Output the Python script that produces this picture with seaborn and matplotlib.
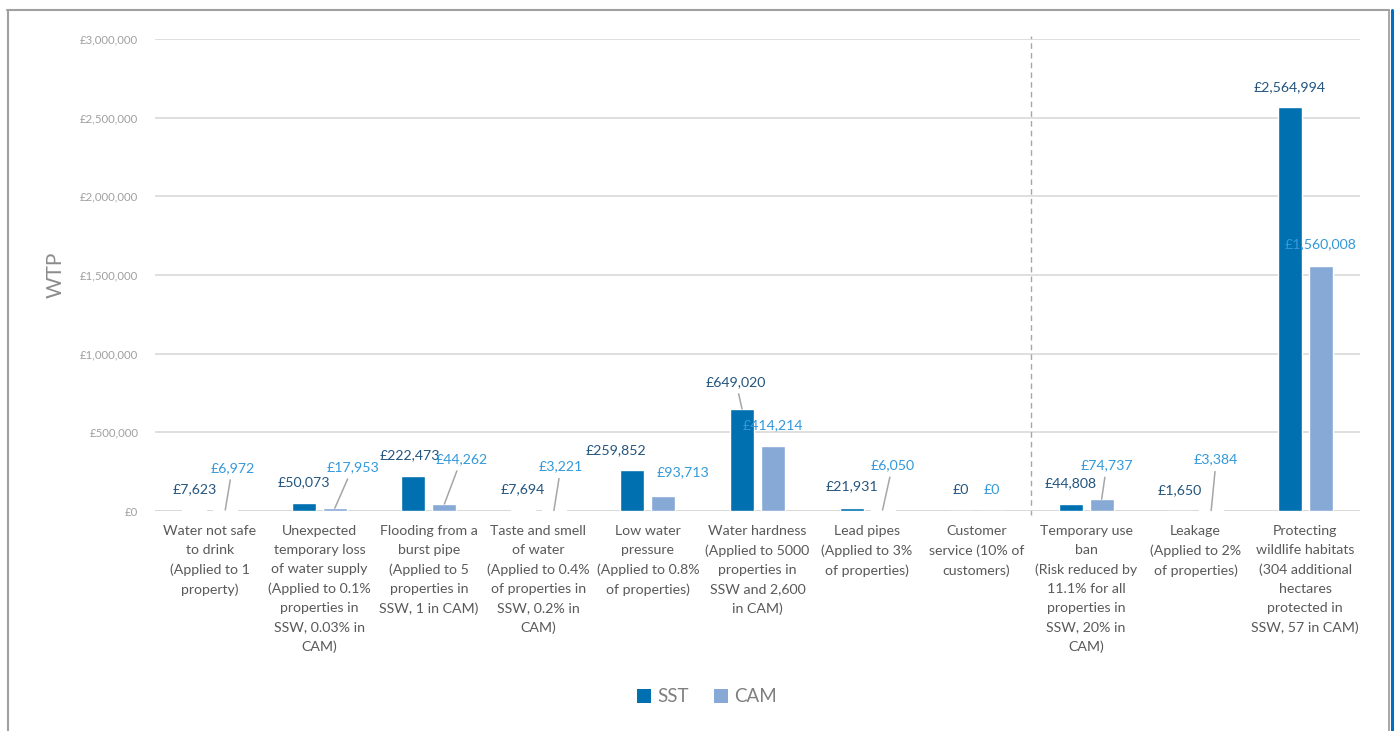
import matplotlib
matplotlib.use("Agg")
import matplotlib.pyplot as plt
import pandas as pd
import seaborn as sns
from matplotlib.lines import Line2D
from matplotlib.patches import Patch

# ---- data -------------------------------------------------------------
categories = [
    "Water not safe\nto drink\n(Applied to 1\nproperty)",
    "Unexpected\ntemporary loss\nof water supply\n(Applied to 0.1%\nproperties in\nSSW, 0.03% in\nCAM)",
    "Flooding from a\nburst pipe\n(Applied to 5\nproperties in\nSSW, 1 in CAM)",
    "Taste and smell\nof water\n(Applied to 0.4%\nof properties in\nSSW, 0.2% in\nCAM)",
    "Low water\npressure\n(Applied to 0.8%\nof properties)",
    "Water hardness\n(Applied to 5000\nproperties in\nSSW and 2,600\nin CAM)",
    "Lead pipes\n(Applied to 3%\nof properties)",
    "Customer\nservice (10% of\ncustomers)",
    "Temporary use\nban\n(Risk reduced by\n11.1% for all\nproperties in\nSSW, 20% in\nCAM)",
    "Leakage\n(Applied to 2%\nof properties)",
    "Protecting\nwildlife habitats\n(304 additional\nhectares\nprotected in\nSSW, 57 in CAM)",
]
series_names = ["SST", "CAM"]
sst_values = [7623, 50073, 222473, 7694, 259852, 649020, 21931, 0, 44808, 1650, 2564994]
cam_values = [6972, 17953, 44262, 3221, 93713, 414214, 6050, 0, 74737, 3384, 1560008]
y_ticks = [0, 500000, 1000000, 1500000, 2000000, 2500000, 3000000]
y_title = "WTP"

# ---- styling ----------------------------------------------------------
SST_BAR = "#0070B0"
CAM_BAR = "#86A9D5"
SST_TXT = "#24557F"
CAM_TXT = "#3499DA"
GRID = "#D9D9D9"
LEADER = "#A6A6A6"

# label placement (pixels from bar top: dx, up, leader line)
sst_offsets = [(0, 21, False), (0, 21, False), (-3, 21, False), (0, 21, False),
               (-17, 20, False), (-6, 27, True), (0, 21, False), (0, 21, False),
               (0, 21, False), (0, 21, False), (0, 20, False)]
cam_offsets = [(7, 42, True), (18, 41, True), (17, 45, True), (7, 44, True),
               (20, 24, False), (0, 21, False), (10, 45, True), (0, 21, False),
               (5, 34, True), (5, 51, True), (0, 21, False)]

sns.set_theme(style="white")
plt.rcParams["font.family"] = ["Lato", "DejaVu Sans"]

df = pd.DataFrame({
    "category": categories * 2,
    "series": [series_names[0]] * len(categories) + [series_names[1]] * len(categories),
    "value": sst_values + cam_values,
})

fig = plt.figure(figsize=(13.97, 7.31), dpi=100)
W, H = 1397, 731
ax = fig.add_axes([155 / W, 1 - 511 / H, (1360 - 155) / W, (511 - 39) / H])

sns.barplot(data=df, x="category", y="value", hue="series", order=categories,
            hue_order=series_names, palette=[SST_BAR, CAM_BAR], saturation=1,
            width=0.566, gap=0.226, legend=False, ax=ax, zorder=3)

ax.set_xlim(-0.5, len(categories) - 0.5)
ax.set_ylim(0, 3000000)
ax.set_yticks(y_ticks)
ax.set_yticklabels([f"£{v:,.0f}" for v in y_ticks], color="#A0A0A0", fontsize=8.2)
ax.tick_params(axis="y", length=0, pad=12)
ax.tick_params(axis="x", length=0, pad=10)
for lbl in ax.get_xticklabels():
    lbl.set_fontsize(10.2)
    lbl.set_color("#595959")
    lbl.set_multialignment("center")
    lbl.set_linespacing(1.7)
ax.set_xlabel("")
ax.set_ylabel(y_title, fontsize=15, color="#8C8C8C")
ax.yaxis.set_label_coords(-0.0745, 0.5)

for s in ax.spines.values():
    s.set_visible(False)
ax.grid(axis="y", color=GRID, lw=1.2, zorder=0)
ax.axhline(0, color=GRID, lw=1.4, zorder=2)

# divider between the two groups of measures
ax.plot([7.5, 7.5], [-25000, 3020000], color=LEADER, lw=1, ls=(0, (4, 3)),
        clip_on=False, zorder=1)

# value labels
for container, offsets, color in ((ax.containers[0], sst_offsets, SST_TXT),
                                  (ax.containers[1], cam_offsets, CAM_TXT)):
    for bar, (dx, up, leader) in zip(container, offsets):
        xc = bar.get_x() + bar.get_width() / 2
        val = bar.get_height()
        arrow = dict(arrowstyle="-", color=LEADER, lw=1.1, shrinkA=2, shrinkB=0) if leader else None
        ax.annotate(f"£{val:,.0f}", xy=(xc, val), xytext=(dx, up),
                    textcoords="offset pixels", ha="center", va="center",
                    fontsize=10.2, color=color, arrowprops=arrow, zorder=4)

# legend
handles = [Patch(facecolor=SST_BAR, edgecolor="none", label=series_names[0]),
           Patch(facecolor=CAM_BAR, edgecolor="none", label=series_names[1])]
fig.legend(handles=handles, loc="center", bbox_to_anchor=(707 / W, 1 - 697 / H),
           ncol=2, frameon=False, fontsize=13.5, handlelength=0.75, handleheight=0.75,
           handletextpad=0.35, columnspacing=1.3, labelcolor="#7F7F7F")

# outer frame
frame = "#A0A0A0"
fig.add_artist(Line2D([7.7 / W, 7.7 / W], [0, 1 - 10 / H], color=frame, lw=1.5))
fig.add_artist(Line2D([7 / W, 1389 / W], [1 - 10 / H, 1 - 10 / H], color=frame, lw=1.5))
fig.add_artist(Line2D([1389 / W, 1389 / W], [0, 1 - 10 / H], color=frame, lw=1.3))
fig.add_artist(Line2D([1391.5 / W, 1391.5 / W], [0, 1 - 10 / H], color="#0070C0", lw=2.2))

fig.savefig("out.png", dpi=100)
